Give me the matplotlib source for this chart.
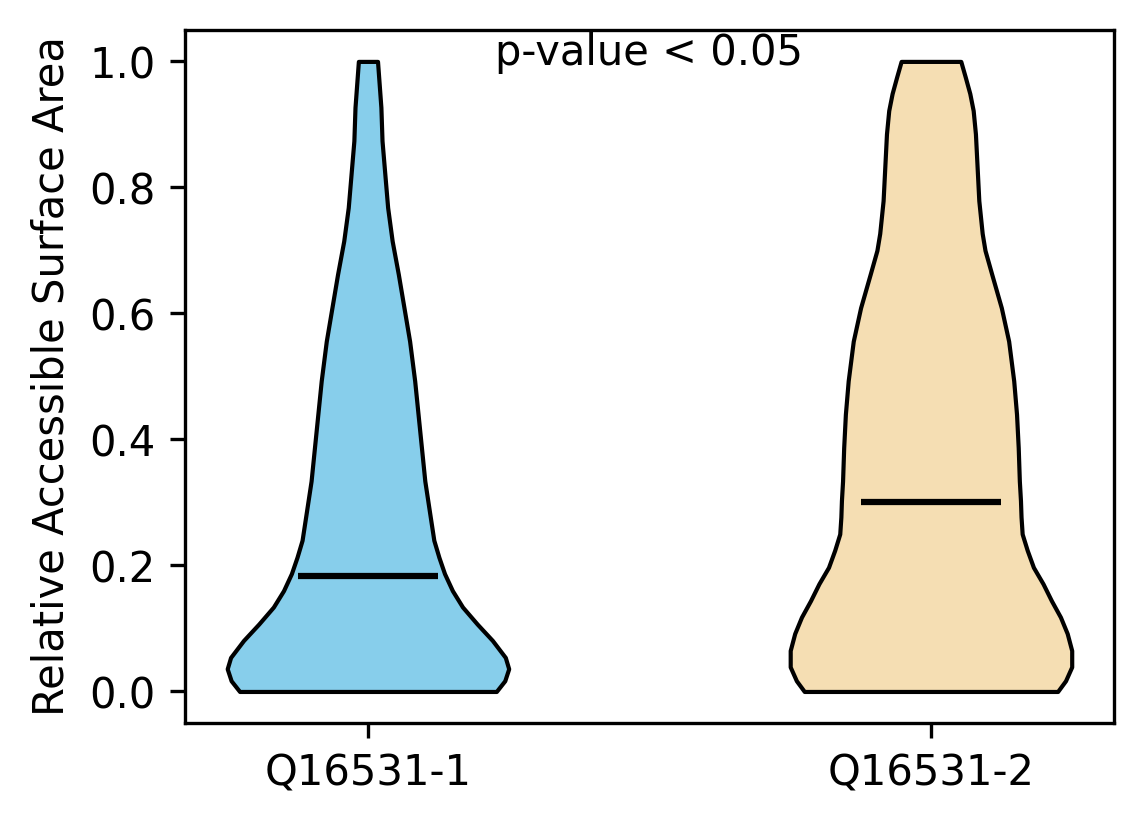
import numpy as np
import matplotlib.pyplot as plt

# isoform names and violin positions
labels = ["Q16531-1", "Q16531-2"]
positions = [1, 2]
colors = ["skyblue", "wheat"]

# violin outlines: RSA level and half width (x units)
rsa_1 = [0.0, 0.017, 0.036, 0.054, 0.081, 0.107, 0.134, 0.160, 0.187, 0.213,
         0.240, 0.281, 0.334, 0.387, 0.440, 0.493, 0.556, 0.609, 0.662, 0.715,
         0.768, 0.821, 0.874, 0.927, 1.0]
half_1 = [0.228, 0.243, 0.250, 0.244, 0.221, 0.194, 0.168, 0.150, 0.136, 0.126,
          0.117, 0.110, 0.101, 0.095, 0.089, 0.083, 0.074, 0.064, 0.054, 0.043,
          0.035, 0.030, 0.025, 0.023, 0.017]

rsa_2 = [0.0, 0.017, 0.039, 0.065, 0.092, 0.118, 0.144, 0.171, 0.197, 0.224,
         0.250, 0.277, 0.303, 0.334, 0.387, 0.440, 0.493, 0.556, 0.609, 0.662,
         0.700, 0.727, 0.779, 0.832, 0.885, 0.922, 0.949, 0.975, 1.0]
half_2 = [0.225, 0.239, 0.250, 0.250, 0.242, 0.230, 0.214, 0.199, 0.182, 0.171,
          0.162, 0.160, 0.159, 0.157, 0.155, 0.152, 0.147, 0.138, 0.125, 0.108,
          0.096, 0.091, 0.085, 0.082, 0.079, 0.075, 0.069, 0.061, 0.053]

medians = [0.184, 0.301]

fig = plt.figure(figsize=(3.813, 2.747), dpi=300)
ax = fig.add_axes([0.1617, 0.1226, 0.8121, 0.841])

outlines = [(rsa_1, half_1), (rsa_2, half_2)]
for pos, (ys, hw), c, med in zip(positions, outlines, colors, medians):
    ys = np.array(ys)
    hw = np.array(hw)
    ax.fill_betweenx(ys, pos - hw, pos + hw, facecolor=c, edgecolor="black",
                     linewidth=1.0, joinstyle="round")
    # median line spans half the violin width, like matplotlib's violinplot
    ax.hlines(med, pos - 0.125, pos + 0.125, colors="black", linewidth=1.5)

ax.set_xlim(0.675, 2.325)
ax.set_ylim(-0.05, 1.05)
ax.set_xticks(positions)
ax.set_xticklabels(labels)
ax.set_ylabel("Relative Accessible Surface Area")
ax.text(1.5, 0.995, "p-value < 0.05", ha="center", va="baseline", fontsize=10)

fig.savefig("out.png", dpi=300)
